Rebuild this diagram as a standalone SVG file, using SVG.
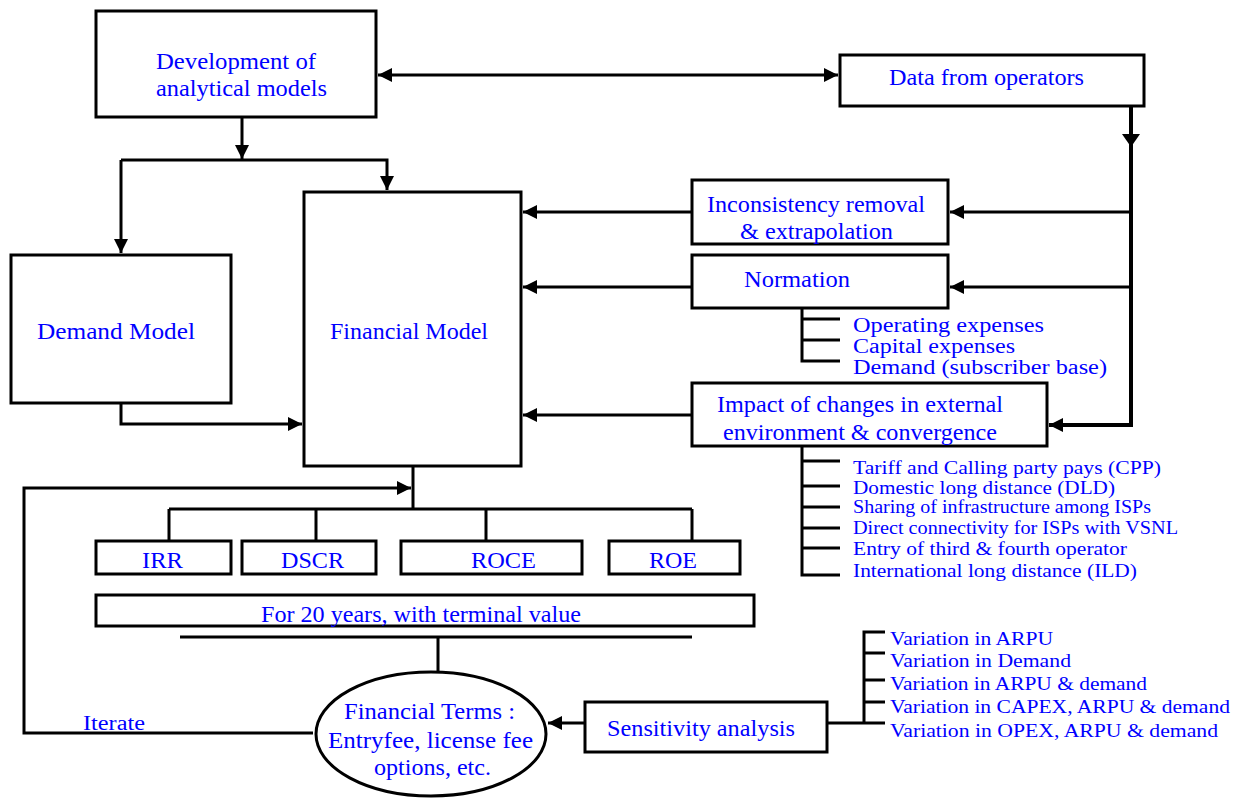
<svg xmlns="http://www.w3.org/2000/svg" width="1249" height="798" viewBox="0 0 1249 798">
<style>
.box{fill:#fff;stroke:#000;stroke-width:3}
.ln{fill:none;stroke:#000;stroke-width:3}
.t{font-family:"Liberation Serif","Times New Roman",serif;font-size:24px;fill:#0000ff}
.n{font-family:"Liberation Serif","Times New Roman",serif;font-size:20px;fill:#0000ff}
.s{font-family:"Liberation Serif","Times New Roman",serif;font-size:18px;fill:#0000ff}
.v{font-family:"Liberation Serif","Times New Roman",serif;font-size:19px;fill:#0000ff}
</style>
<defs>
<marker id="ah" viewBox="0 0 14 14" markerWidth="14" markerHeight="14" refX="14" refY="7" orient="auto-start-reverse" markerUnits="userSpaceOnUse">
<path d="M0,0 L14,7 L0,14 z" fill="#000"/>
</marker>
</defs>
<rect width="1249" height="798" fill="#fff"/>

<g id="connectors">
<path class="ln" d="M378,75 H838" marker-start="url(#ah)" marker-end="url(#ah)"/>
<path class="ln" d="M242,117 V159" marker-end="url(#ah)"/>
<path class="ln" d="M121,160 H387 V190" marker-end="url(#ah)"/>
<path class="ln" d="M121,160 V253" marker-end="url(#ah)"/>
<path class="ln" d="M121,403 V424 H302" marker-end="url(#ah)"/>
<path fill="none" stroke="#000" stroke-width="4" d="M1131,106 V425 H1049" marker-end="url(#ah)"/>
<polygon points="1122,134 1140,134 1131,147" fill="#000"/>
<path class="ln" d="M1131,212 H950" marker-end="url(#ah)"/>
<path class="ln" d="M1131,287 H950" marker-end="url(#ah)"/>
<path class="ln" d="M692,212 H523" marker-end="url(#ah)"/>
<path class="ln" d="M692,287 H523" marker-end="url(#ah)"/>
<path class="ln" d="M692,415 H523" marker-end="url(#ah)"/>
<path class="ln" d="M413,466 V509 M169,509 H692 M169,509 V541 M316,509 V541 M486,509 V541 M692,509 V541"/>
<path class="ln" d="M313,733 H24 V488 H411" marker-end="url(#ah)"/>
<path class="ln" d="M180,637 H692 M438,637 V672"/>
<path class="ln" d="M585,723 H548" marker-end="url(#ah)"/>
<path class="ln" d="M827,723 H885 M864,723 V632 H885 M864,653 H885 M864,680 H885 M864,702 H885"/>
<path class="ln" d="M802,308 V361 H840 M802,319 H840 M802,340 H840"/>
<path class="ln" d="M802,446 V575 H840 M802,461 H840 M802,486 H840 M802,507 H840 M802,528 H840 M802,548 H840"/>
</g>

<g id="dev">
<rect class="box" x="96" y="11" width="280" height="106"/>
<text class="t" x="156" y="69" textLength="160" lengthAdjust="spacingAndGlyphs">Development of</text>
<text class="t" x="156" y="96" textLength="171" lengthAdjust="spacingAndGlyphs">analytical models</text>
</g>
<g id="data">
<rect class="box" x="840" y="55" width="304" height="51"/>
<text class="t" x="889" y="85" textLength="195" lengthAdjust="spacingAndGlyphs">Data from operators</text>
</g>
<g id="demand">
<rect class="box" x="11" y="255" width="220" height="148"/>
<text class="t" x="37" y="339" textLength="158" lengthAdjust="spacingAndGlyphs">Demand  Model</text>
</g>
<g id="financial">
<rect class="box" x="304" y="192" width="217" height="274"/>
<text class="t" x="330" y="339" textLength="158" lengthAdjust="spacingAndGlyphs">Financial Model</text>
</g>
<g id="inconsistency">
<rect class="box" x="692" y="180" width="256" height="64"/>
<text class="t" x="707" y="212" textLength="218" lengthAdjust="spacingAndGlyphs">Inconsistency removal</text>
<text class="t" x="740" y="239" textLength="153" lengthAdjust="spacingAndGlyphs">&amp; extrapolation</text>
</g>
<g id="normation">
<rect class="box" x="692" y="255" width="256" height="53"/>
<text class="t" x="744" y="287" textLength="106" lengthAdjust="spacingAndGlyphs">Normation</text>
</g>
<g id="normation-list">
<text class="n" x="853" y="332" textLength="191" lengthAdjust="spacingAndGlyphs">Operating expenses</text>
<text class="n" x="853" y="353" textLength="162" lengthAdjust="spacingAndGlyphs">Capital expenses</text>
<text class="n" x="853" y="374" textLength="254" lengthAdjust="spacingAndGlyphs">Demand (subscriber base)</text>
</g>
<g id="impact">
<rect class="box" x="692" y="383" width="355" height="63"/>
<text class="t" x="717" y="412" textLength="286" lengthAdjust="spacingAndGlyphs">Impact of changes in external</text>
<text class="t" x="723" y="440" textLength="274" lengthAdjust="spacingAndGlyphs">environment &amp; convergence</text>
</g>
<g id="impact-list">
<text class="s" x="853" y="474" textLength="308" lengthAdjust="spacingAndGlyphs">Tariff and Calling party pays (CPP)</text>
<text class="s" x="853" y="494" textLength="262" lengthAdjust="spacingAndGlyphs">Domestic long distance (DLD)</text>
<text class="s" x="853" y="513" textLength="298" lengthAdjust="spacingAndGlyphs">Sharing of infrastructure among ISPs</text>
<text class="s" x="853" y="534" textLength="325" lengthAdjust="spacingAndGlyphs">Direct connectivity for ISPs with VSNL</text>
<text class="s" x="853" y="555" textLength="274" lengthAdjust="spacingAndGlyphs">Entry of third &amp; fourth operator</text>
<text class="s" x="853" y="577" textLength="284" lengthAdjust="spacingAndGlyphs">International long distance (ILD)</text>
</g>
<g id="irr">
<rect class="box" x="96" y="541" width="135" height="33"/>
<text class="t" x="142" y="568" textLength="41" lengthAdjust="spacingAndGlyphs">IRR</text>
</g>
<g id="dscr">
<rect class="box" x="242" y="541" width="134" height="33"/>
<text class="t" x="281" y="568" textLength="63" lengthAdjust="spacingAndGlyphs">DSCR</text>
</g>
<g id="roce">
<rect class="box" x="401" y="541" width="181" height="33"/>
<text class="t" x="471" y="568" textLength="65" lengthAdjust="spacingAndGlyphs">ROCE</text>
</g>
<g id="roe">
<rect class="box" x="609" y="541" width="131" height="33"/>
<text class="t" x="649" y="568" textLength="48" lengthAdjust="spacingAndGlyphs">ROE</text>
</g>
<g id="years">
<rect class="box" x="96" y="595" width="658" height="31"/>
<text class="t" x="261" y="622" textLength="320" lengthAdjust="spacingAndGlyphs">For 20 years, with terminal value</text>
</g>
<g id="iterate-label">
<text class="n" x="83" y="730" textLength="62" lengthAdjust="spacingAndGlyphs">Iterate</text>
</g>
<g id="terms">
<ellipse cx="431" cy="734" rx="115" ry="62" fill="#fff" stroke="#000" stroke-width="3"/>
<text class="t" x="344" y="719" textLength="171" lengthAdjust="spacingAndGlyphs">Financial Terms :</text>
<text class="t" x="328" y="748" textLength="205" lengthAdjust="spacingAndGlyphs">Entryfee, license fee</text>
<text class="t" x="374" y="775" textLength="117" lengthAdjust="spacingAndGlyphs">options, etc.</text>
</g>
<g id="sensitivity">
<rect class="box" x="585" y="702" width="242" height="50"/>
<text class="t" x="607" y="736" textLength="188" lengthAdjust="spacingAndGlyphs">Sensitivity analysis</text>
</g>
<g id="sensitivity-list">
<text class="v" x="890" y="645" textLength="163" lengthAdjust="spacingAndGlyphs">Variation in ARPU</text>
<text class="v" x="890" y="667" textLength="181" lengthAdjust="spacingAndGlyphs">Variation in Demand</text>
<text class="v" x="890" y="690" textLength="257" lengthAdjust="spacingAndGlyphs">Variation in ARPU &amp; demand</text>
<text class="v" x="890" y="713" textLength="340" lengthAdjust="spacingAndGlyphs">Variation in CAPEX, ARPU &amp; demand</text>
<text class="v" x="890" y="737" textLength="328" lengthAdjust="spacingAndGlyphs">Variation in OPEX, ARPU &amp; demand</text>
</g>
</svg>
